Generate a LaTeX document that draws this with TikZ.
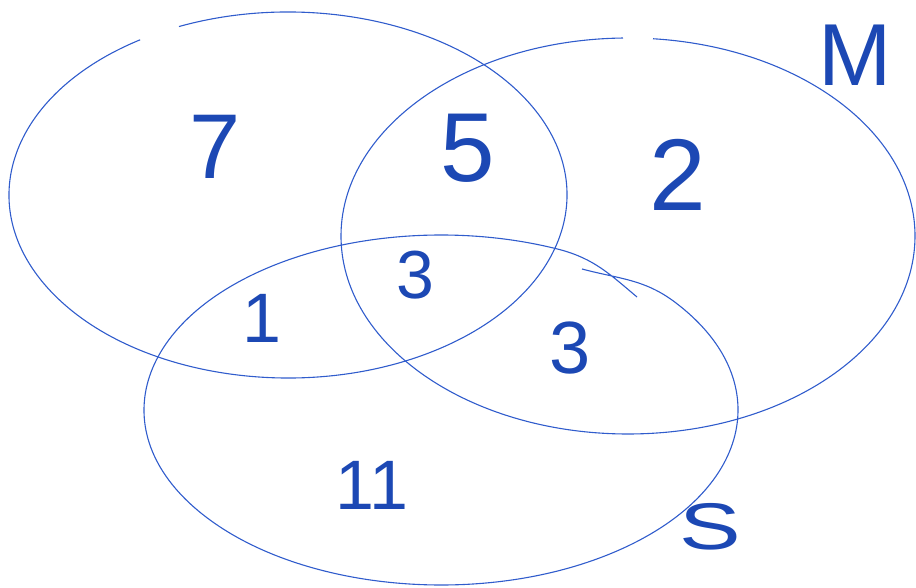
\documentclass[tikz,border=0pt]{standalone}
\usepackage{fontspec}
\setmainfont{Liberation Sans}
\definecolor{handblue}{RGB}{28,72,180}
\definecolor{lineblue}{RGB}{48,92,204}
\begin{document}
\begin{tikzpicture}[x=1pt, y=1pt,
		tally/.style={text=handblue, inner sep=0pt, font=\fontsize{#1}{#1}\selectfont},
		setline/.style={draw=lineblue, line width=1.1pt}]
		\useasboundingbox (0,0) rectangle (916,588);

		% the three sets
		\coordinate (cA) at (288,393);
		\coordinate (cM) at (628,352);
		\coordinate (cS) at (441,178);

		\draw[setline] ([shift={(122:279 and 183)}]cA) arc[start angle=122, end angle=473, x radius=279, y radius=183];
		\draw[setline] ([shift={(91:287 and 198)}]cM) arc[start angle=91, end angle=445, x radius=287, y radius=198];
		\draw[setline] (582,319) to[out=-15, in=143] ([shift={(38:297 and 175)}]cS)
			arc[start angle=38, end angle=-293.6, x radius=297, y radius=175]
			to[out=-15, in=140] (637,291);

		% counts
		\node[tally=92] (n7) at (215,441) {7};
		\node[tally=98] (n5) at (468,440) {5};
		\node[tally=102] (n2) at (678,413) {2};
		\node[tally=68] (n3a) at (415,313) {3};
		\node[tally=70] (n1) at (262,270) {1};
		\node[tally=74] (n3b) at (570,240) {3};
		\node[tally=70] (n11) at (372,103) {11};

		% set names
		\node[tally=88] (labM) at (855,533) {M};
		\node[tally=66, xscale=1.4] (labS) at (710,61) {S};
	\end{tikzpicture}
\end{document}
